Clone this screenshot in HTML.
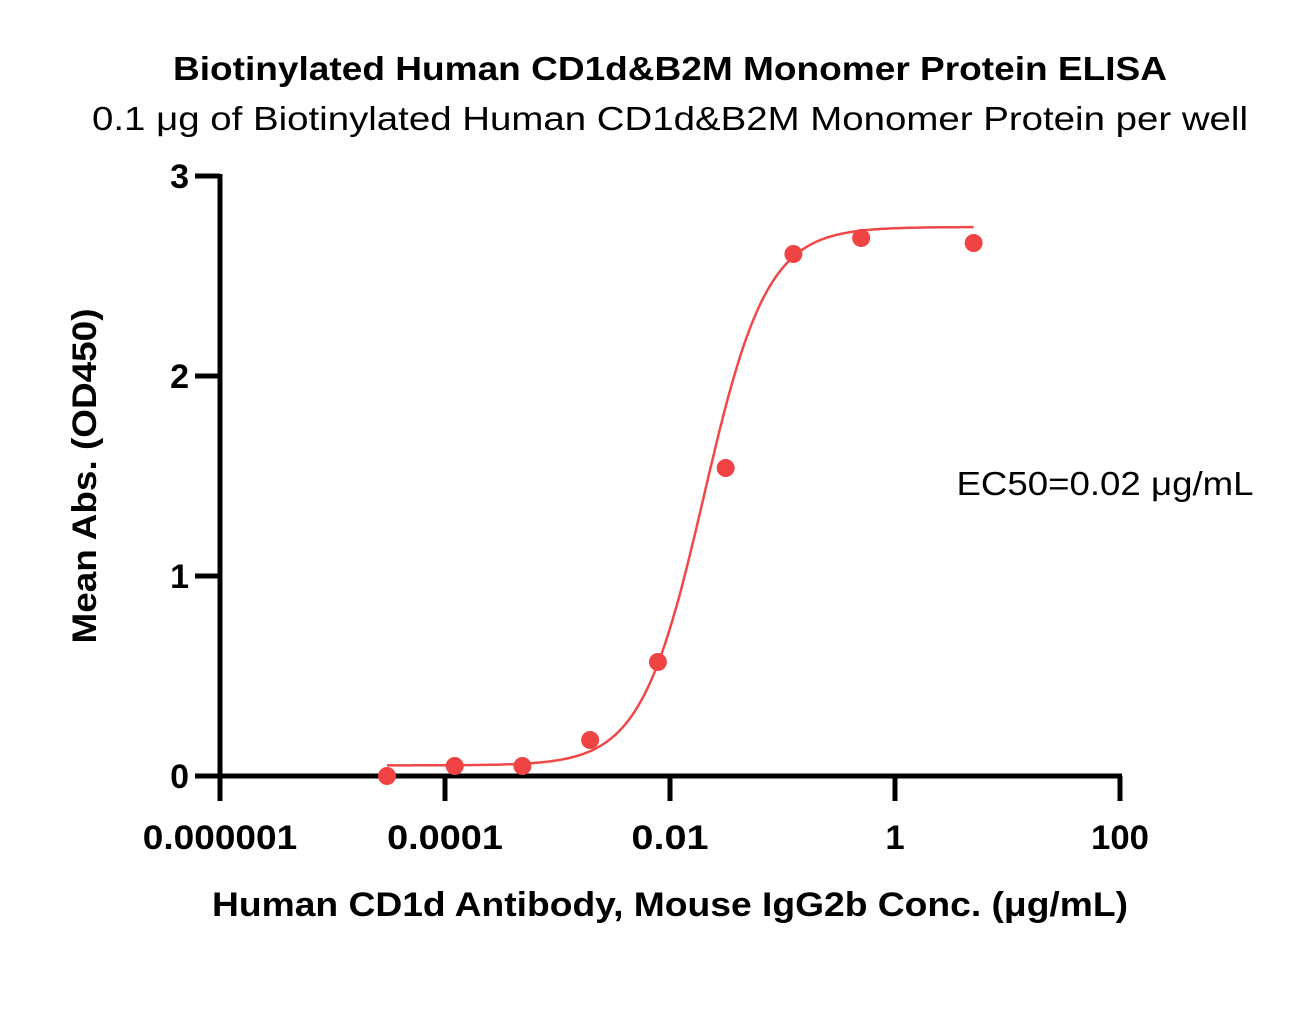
<!DOCTYPE html>
<html><head><meta charset="utf-8"><style>
body{margin:0;background:#fff;}
svg text{font-family:"Liberation Sans",sans-serif;}
</style></head><body>
<svg width="1298" height="1023" viewBox="0 0 1298 1023">
<text x="670" y="80" text-anchor="middle" font-size="33" font-weight="bold" textLength="994" lengthAdjust="spacingAndGlyphs">Biotinylated Human CD1d&amp;B2M Monomer Protein ELISA</text>
<text x="670" y="130" text-anchor="middle" font-size="33" textLength="1156" lengthAdjust="spacingAndGlyphs">0.1 μg of Biotinylated Human CD1d&amp;B2M Monomer Protein per well</text>
<g id="axes"></g>
<g id="marks"></g>
<text x="1105" y="495" text-anchor="middle" font-size="33" textLength="297" lengthAdjust="spacingAndGlyphs">EC50=0.02 μg/mL</text>
<text x="670" y="916" text-anchor="middle" font-size="34" font-weight="bold" textLength="916" lengthAdjust="spacingAndGlyphs">Human CD1d Antibody, Mouse IgG2b Conc. (μg/mL)</text>
<text transform="translate(96,476) rotate(-90)" text-anchor="middle" font-size="34" font-weight="bold" textLength="335" lengthAdjust="spacingAndGlyphs">Mean Abs. (OD450)</text>
</svg>
<script>
const xTicks=[1e-6,1e-4,1e-2,1,100];
const xTickLabels=["0.000001","0.0001","0.01","1","100"];
const yTicks=[0,1,2,3];
const yTickLabels=["0","1","2","3"];
const concentrations=[3.05e-5,1.22e-4,4.88e-4,1.95e-3,7.81e-3,0.03125,0.125,0.5,5];
const absorbance=[0.0,0.05,0.05,0.18,0.57,1.54,2.61,2.69,2.665];
const fitParams=[0.053,2.745,0.02,1.55]; // bottom, top, EC50, hill
const NS="http://www.w3.org/2000/svg";
const X=v=>220+112.5*(Math.log10(v)+6);
const Y=v=>776-200*v;
function mk(t,a,p){const e=document.createElementNS(NS,t);for(const k in a)e.setAttribute(k,a[k]);p.appendChild(e);return e;}
const ax=document.getElementById('axes'),mg=document.getElementById('marks');
let l=mk('line',{x1:195,y1:776,x2:1122,y2:776,stroke:'#000','stroke-width':5},ax);


l=mk('line',{x1:220,y1:174,x2:220,y2:801,stroke:'#000','stroke-width':5},ax);


xTicks.forEach((v,i)=>{
 const t=mk('line',{x1:X(v),y1:776,x2:X(v),y2:801,stroke:'#000','stroke-width':5},ax);
 
 
 const tx=mk('text',{x:X(v),y:849,'text-anchor':'middle','font-size':34,'font-weight':'bold',textLength:xTickLabels[i].length*19.3,lengthAdjust:'spacingAndGlyphs'},ax);
 tx.textContent=xTickLabels[i];
 
 
});
yTicks.forEach((v,i)=>{
 const t=mk('line',{x1:195,y1:Y(v),x2:220,y2:Y(v),stroke:'#000','stroke-width':5},ax);
 
 
 const tx=mk('text',{x:189,y:Y(v)+12,'text-anchor':'end','font-size':34,'font-weight':'bold'},ax);
 tx.textContent=yTickLabels[i];
 
 
});
const [b,tp,ec,h]=fitParams;
const lo=Math.log10(concentrations[0]),hi=Math.log10(concentrations[concentrations.length-1]);
let d='';
for(let i=0;i<=300;i++){const lx=lo+(hi-lo)*i/300,c=Math.pow(10,lx);const y=b+(tp-b)/(1+Math.pow(ec/c,h));d+=(i?'L':'M')+X(c).toFixed(1)+','+Y(y).toFixed(1);}
const p=mk('path',{d:d,fill:'none',stroke:'#f04848','stroke-width':2.5},mg);


concentrations.forEach((c,i)=>{
 const e=mk('circle',{cx:X(c),cy:Y(absorbance[i]),r:9,fill:'#f04444'},mg);
 
 
});
</script>
</body></html>
